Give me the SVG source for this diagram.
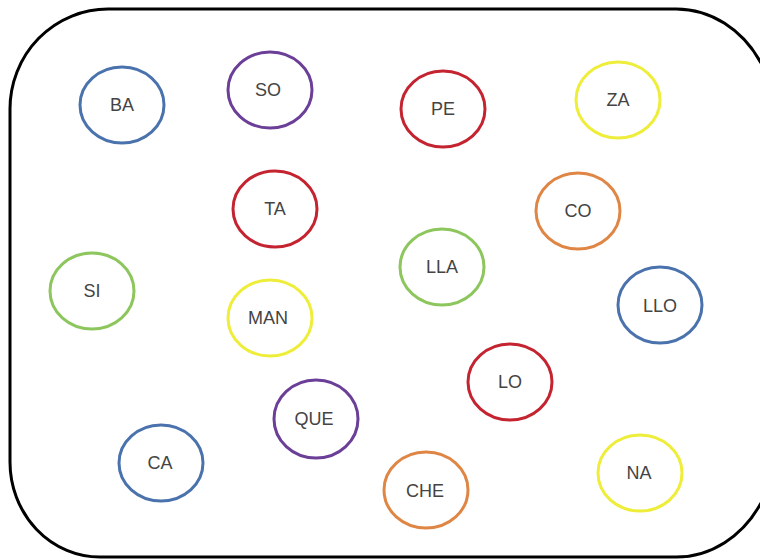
<svg xmlns="http://www.w3.org/2000/svg" width="760" height="559" viewBox="0 0 760 559">
<style>
.n ellipse{fill:none;stroke-width:3}
.n text{font-family:"Liberation Sans","DejaVu Sans",sans-serif;font-size:18px;fill:#444;text-anchor:middle}
.blue{stroke:#4a72ad}.purple{stroke:#6b3f98}.red{stroke:#c42330}.green{stroke:#8cc65c}.yellow{stroke:#eeee3a}.orange{stroke:#df8645}
</style>
<rect width="760" height="559" fill="#fff"/>
<path d="M761,503 A100,115 0 0 1 676,557 H100 A90,95 0 0 1 10,462 V109 A98,100 0 0 1 108,9 H676 A100,115 0 0 1 761,63" fill="none" stroke="#000" stroke-width="3" stroke-linejoin="round"/>
<g id="connectors"/>
<g id="BA" class="n"><ellipse class="blue" cx="122" cy="105" rx="42" ry="38"/><text x="122" y="111">BA</text></g>
<g id="SO" class="n"><ellipse class="purple" cx="270" cy="90" rx="42" ry="38"/><text x="268" y="96">SO</text></g>
<g id="PE" class="n"><ellipse class="red" cx="443" cy="109" rx="42" ry="38"/><text x="443" y="115">PE</text></g>
<g id="ZA" class="n"><ellipse class="yellow" cx="618" cy="100" rx="42" ry="38"/><text x="618" y="106">ZA</text></g>
<g id="TA" class="n"><ellipse class="red" cx="275" cy="209" rx="42" ry="38"/><text x="275" y="215">TA</text></g>
<g id="CO" class="n"><ellipse class="orange" cx="578" cy="211" rx="42" ry="38"/><text x="578" y="217">CO</text></g>
<g id="SI" class="n"><ellipse class="green" cx="92" cy="291" rx="42" ry="38"/><text x="92" y="297">SI</text></g>
<g id="LLA" class="n"><ellipse class="green" cx="442" cy="267" rx="42" ry="38"/><text x="442" y="273">LLA</text></g>
<g id="MAN" class="n"><ellipse class="yellow" cx="270" cy="318" rx="42" ry="38"/><text x="268" y="324">MAN</text></g>
<g id="LLO" class="n"><ellipse class="blue" cx="660" cy="305" rx="42" ry="38"/><text x="660" y="312">LLO</text></g>
<g id="LO" class="n"><ellipse class="red" cx="510" cy="382" rx="42" ry="38"/><text x="510" y="388">LO</text></g>
<g id="QUE" class="n"><ellipse class="purple" cx="316" cy="419" rx="42" ry="39"/><text x="314" y="425">QUE</text></g>
<g id="CA" class="n"><ellipse class="blue" cx="161" cy="463" rx="42" ry="38"/><text x="160" y="469">CA</text></g>
<g id="CHE" class="n"><ellipse class="orange" cx="426" cy="490" rx="42" ry="38"/><text x="425" y="497">CHE</text></g>
<g id="NA" class="n"><ellipse class="yellow" cx="640" cy="473" rx="42" ry="38"/><text x="639" y="479">NA</text></g>
</svg>
